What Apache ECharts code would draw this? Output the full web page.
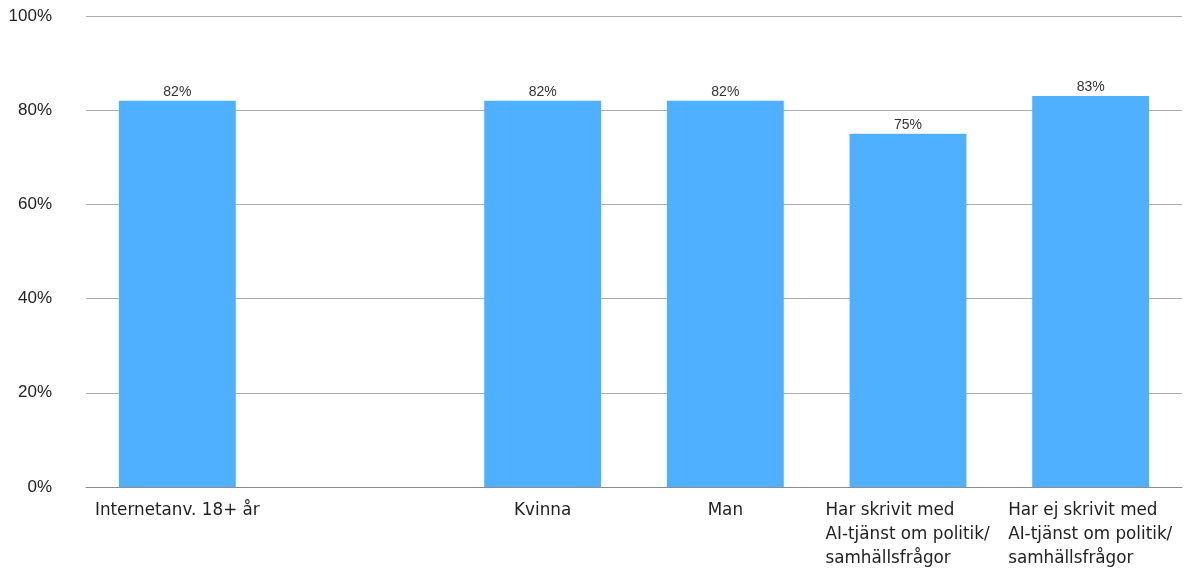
<!DOCTYPE html>
<html>
<head>
<meta charset="utf-8">
<script src="https://cdn.jsdelivr.net/npm/echarts@6/dist/echarts.min.js"></script>
<style>
  html, body { margin: 0; padding: 0; background: #fff; }
  #chart { width: 1192px; height: 571px; }
</style>
</head>
<body>
<div id="chart"></div>
<script>
// Category labels (an empty slot keeps the gap after the total group)
const categories = [
  'Internetanv. 18+ år',
  '',
  'Kvinna',
  'Man',
  'Har skrivit med\nAI-tjänst om politik/\nsamhällsfrågor',
  'Har ej skrivit med\nAI-tjänst om politik/\nsamhällsfrågor'
];
// Share in percent per category
const values = [82, null, 82, 82, 75, 83];
// Y axis ticks
const yTicks = [0, 20, 40, 60, 80, 100];

const LABEL_FONT = '"DejaVu Sans"';
const LABEL_SIZE = 16.8;

// Multi-line category labels are drawn as a centred block with lines aligned left,
// so each line gets the width of the block's longest line.
const measureCtx = document.createElement('canvas').getContext('2d');
measureCtx.font = LABEL_SIZE + 'px ' + LABEL_FONT;
const rich = {};
categories.forEach((c, i) => {
  if (c.indexOf('\n') < 0) return;
  const w = Math.max(...c.split('\n').map(s => measureCtx.measureText(s).width));
  rich['c' + i] = {
    width: Math.ceil(w), align: 'left',
    fontFamily: LABEL_FONT, fontSize: LABEL_SIZE, lineHeight: 24, color: '#222'
  };
});

const chart = echarts.init(document.getElementById('chart'));

chart.setOption({
  animation: false,
  grid: { left: 86, right: 10, top: 16, bottom: 84, containLabel: false },
  xAxis: {
    type: 'category',
    data: categories,
    axisLine: { lineStyle: { color: '#8c8c8c', width: 1 } },
    axisTick: { show: false },
    axisLabel: {
      interval: 0,
      margin: 12,
      color: '#222',
      fontFamily: LABEL_FONT,
      fontSize: LABEL_SIZE,
      lineHeight: 24,
      formatter: function (v, i) {
        if (v.indexOf('\n') < 0) return v;
        return v.split('\n').map(s => '{c' + i + '|' + s + '}').join('\n');
      },
      rich: rich
    }
  },
  yAxis: {
    type: 'value',
    min: yTicks[0],
    max: yTicks[yTicks.length - 1],
    interval: 20,
    axisLine: { show: false },
    axisTick: { show: false },
    splitLine: { lineStyle: { color: '#acacac', width: 1 } },
    axisLabel: {
      margin: 34,
      padding: [3, 0, 0, 0],
      color: '#222',
      fontFamily: 'Liberation Sans',
      fontSize: 17,
      formatter: '{value}%'
    }
  },
  series: [{
    type: 'bar',
    data: values,
    barWidth: '64%',
    itemStyle: { color: '#4FB0FF' },
    label: {
      show: true,
      position: 'top',
      distance: 2,
      color: '#333',
      fontFamily: 'Liberation Sans',
      fontSize: 14,
      formatter: p => p.value + '%'
    }
  }]
});
</script>
</body>
</html>
